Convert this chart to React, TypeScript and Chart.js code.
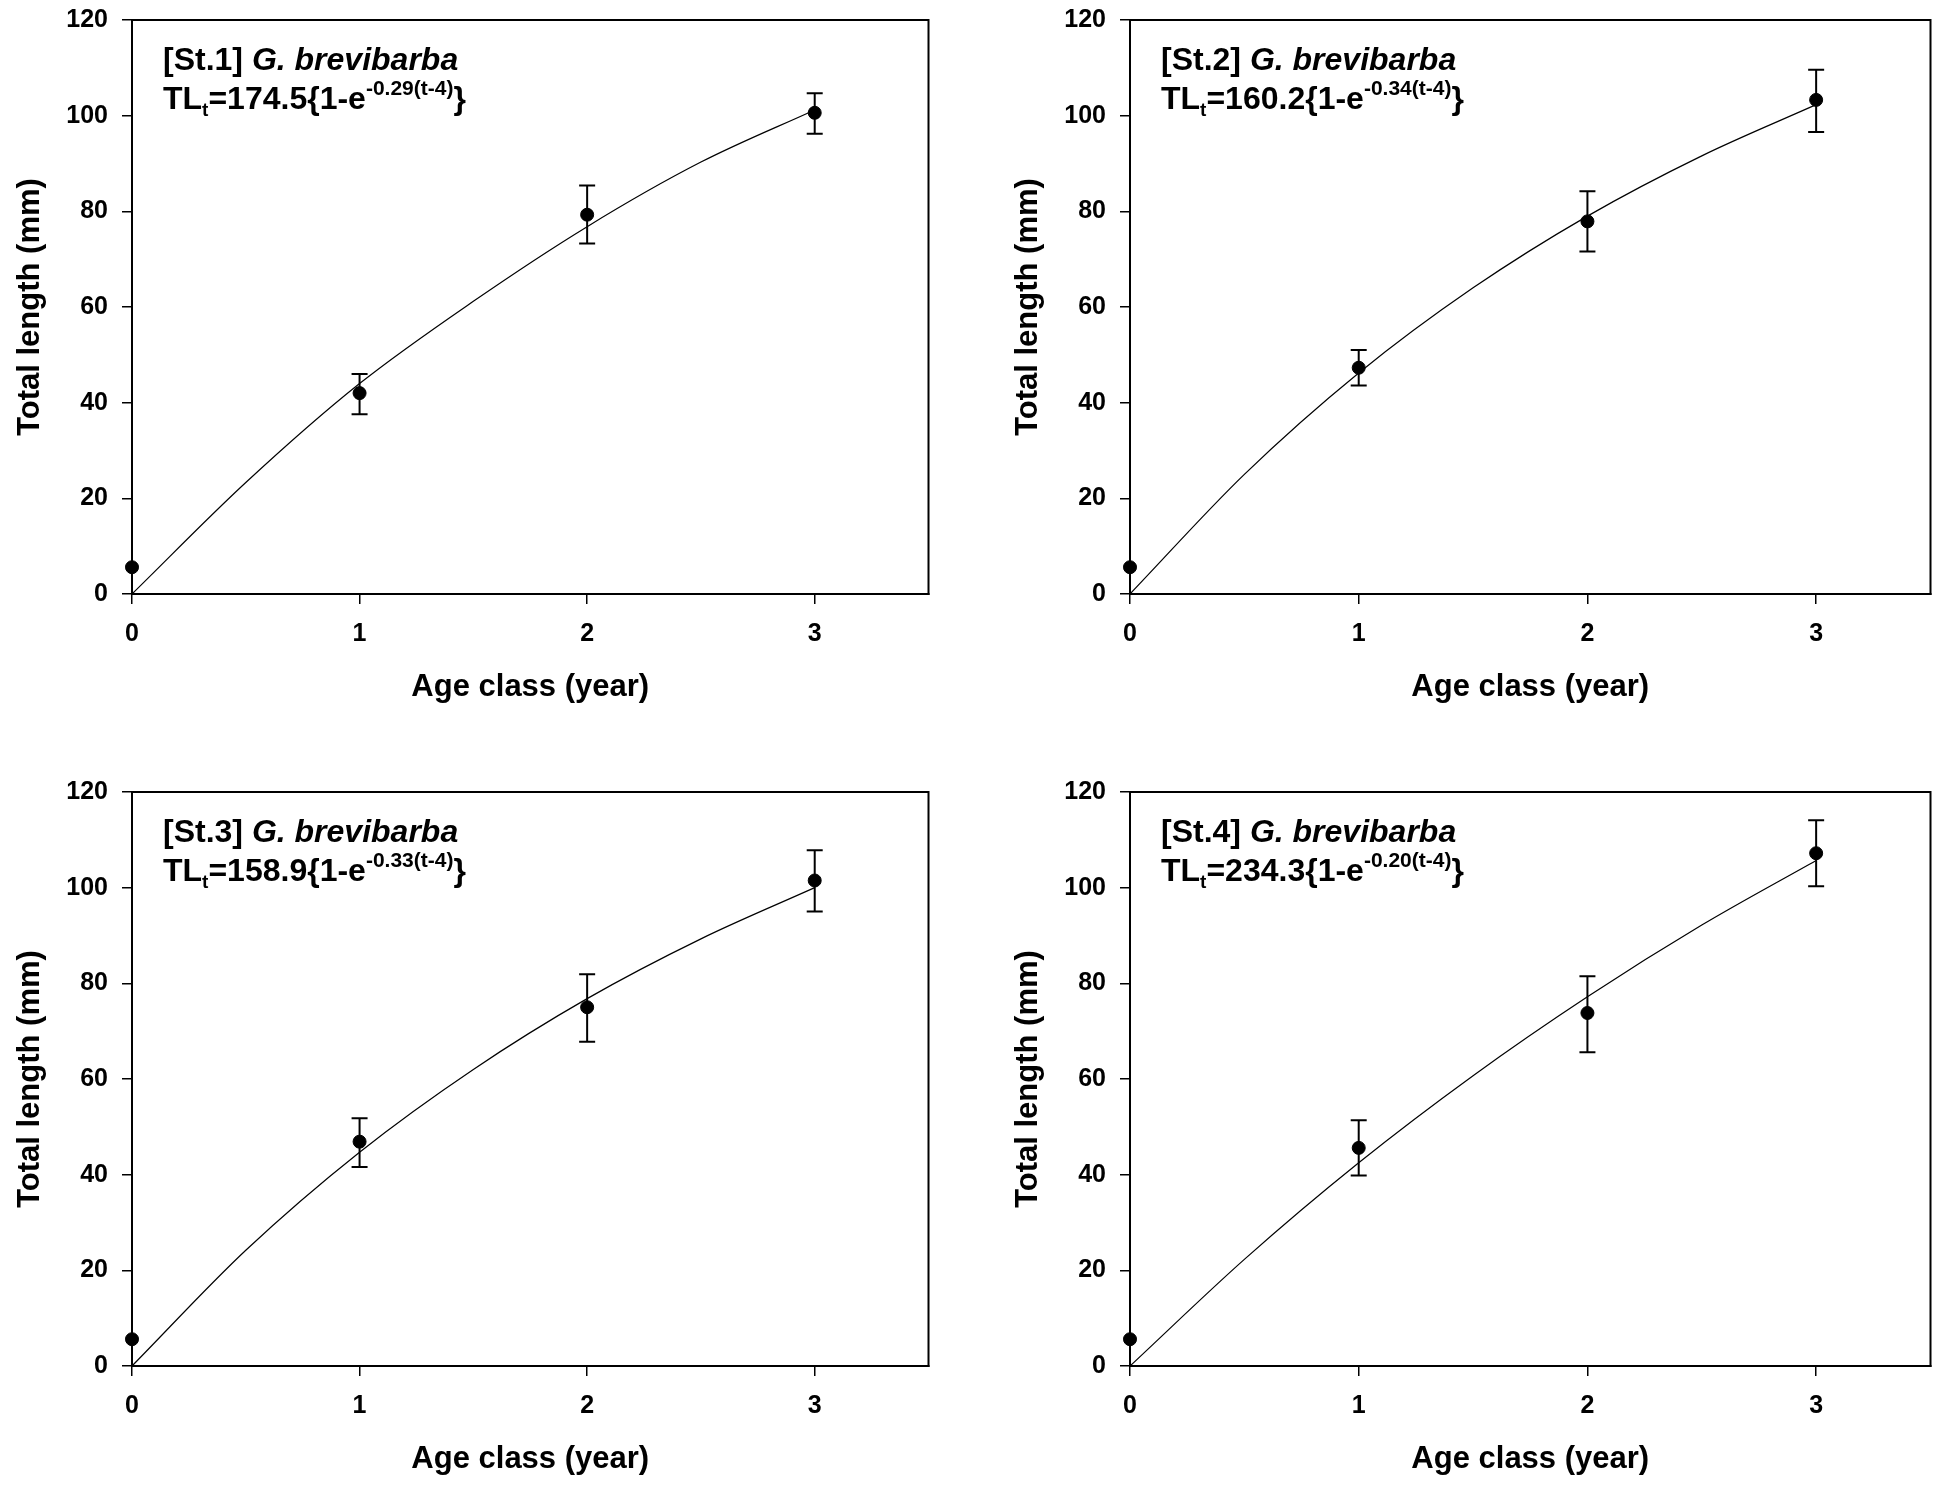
import React, { useEffect, useRef } from "react";
import { Chart, registerables } from "chart.js";

Chart.register(...registerables);

// ---------------- data ----------------
const ages = [0, 1, 2, 3];
const curveAges = [0, 0.5, 1, 1.5, 2, 2.5, 3];
const xTicks = [0, 1, 2, 3];

const st1Mean = [5.6, 42.0, 79.3, 100.6];
const st1Upper = [null, 46.0, 85.4, 104.7];
const st1Lower = [null, 37.6, 73.3, 96.2];
const st1Curve = [0, 23.3, 44.0, 61.2, 76.8, 90.3, 101.2];

const st2Mean = [5.6, 47.3, 77.9, 103.3];
const st2Upper = [null, 51.0, 84.2, 109.6];
const st2Lower = [null, 43.6, 71.6, 96.6];
const st2Curve = [0, 25.0, 46.2, 64.0, 79.0, 91.6, 102.3];

const st3Mean = [5.6, 46.9, 75.0, 101.5];
const st3Upper = [null, 51.8, 81.9, 107.8];
const st3Lower = [null, 41.6, 67.8, 95.0];
const st3Curve = [0, 24.2, 44.7, 62.0, 76.8, 89.3, 100.0];

const st4Mean = [5.6, 45.6, 73.8, 107.2];
const st4Upper = [null, 51.4, 81.5, 114.1];
const st4Lower = [null, 39.8, 65.6, 100.3];
const st4Curve = [0, 22.3, 42.5, 60.7, 77.2, 92.2, 105.7];

const stationNames = ["St.1", "St.2", "St.3", "St.4"];
const speciesName = "G. brevibarba";
const linfLabels = ["174.5", "160.2", "158.9", "234.3"];
const kLabels = ["-0.29(t-4)", "-0.34(t-4)", "-0.33(t-4)", "-0.20(t-4)"];

const xTitle = "Age class (year)";
const yTitle = "Total length (mm)";

// ---------------- styling / layout ----------------
const FONT = "'Liberation Sans', Arial, Helvetica, sans-serif";
const AREA_H = 574;
const Y_AXIS_W = 132;
const PAD_TOP = 30;
const X_AXIS_H = 114;
const PAD_RIGHT = 7;
const CANVAS_H = PAD_TOP + AREA_H + X_AXIS_H;

const panels = [
  { idx: 0, left: 0, top: 20 - PAD_TOP, areaW: 797, mean: st1Mean, upper: st1Upper, lower: st1Lower, curve: st1Curve },
  { idx: 1, left: 998, top: 20 - PAD_TOP, areaW: 801, mean: st2Mean, upper: st2Upper, lower: st2Lower, curve: st2Curve },
  { idx: 2, left: 0, top: 792 - PAD_TOP, areaW: 797, mean: st3Mean, upper: st3Upper, lower: st3Lower, curve: st3Curve },
  { idx: 3, left: 998, top: 792 - PAD_TOP, areaW: 801, mean: st4Mean, upper: st4Upper, lower: st4Lower, curve: st4Curve },
];

type Part = { text: string; size: number; italic?: boolean; dy?: number };

function drawRich(ctx: CanvasRenderingContext2D, x: number, y: number, parts: Part[]) {
  let cx = x;
  for (const p of parts) {
    ctx.font = `${p.italic ? "italic " : ""}bold ${p.size}px ${FONT}`;
    ctx.fillText(p.text, cx, y + (p.dy || 0));
    cx += ctx.measureText(p.text).width;
  }
}

function Panel({ cfg }: { cfg: any }) {
  const ref = useRef<HTMLCanvasElement | null>(null);
  const canvasW = Y_AXIS_W + cfg.areaW + PAD_RIGHT;

  useEffect(() => {
    if (!ref.current) return;
    const { idx, mean, upper, lower, curve } = cfg;

    const framePlugin = {
      id: "frameAndBars",
      beforeDatasetsDraw(chart: any) {
        const { ctx, chartArea, scales } = chart;
        ctx.save();
        ctx.strokeStyle = "#000";
        ctx.lineWidth = 2;
        ctx.strokeRect(chartArea.left, chartArea.top, chartArea.right - chartArea.left, chartArea.bottom - chartArea.top);
        // error bars
        ctx.lineWidth = 2;
        for (let i = 0; i < ages.length; i++) {
          if (upper[i] == null || lower[i] == null) continue;
          const px = scales.x.getPixelForValue(ages[i]);
          const pt = scales.y.getPixelForValue(upper[i]);
          const pb = scales.y.getPixelForValue(lower[i]);
          ctx.beginPath();
          ctx.moveTo(px, pt);
          ctx.lineTo(px, pb);
          ctx.moveTo(px - 8, pt);
          ctx.lineTo(px + 8, pt);
          ctx.moveTo(px - 8, pb);
          ctx.lineTo(px + 8, pb);
          ctx.stroke();
        }
        ctx.restore();
      },
      afterDraw(chart: any) {
        const { ctx, chartArea } = chart;
        ctx.save();
        ctx.fillStyle = "#000";
        ctx.textBaseline = "alphabetic";
        ctx.textAlign = "left";
        const x0 = chartArea.left + 31;
        drawRich(ctx, x0, chartArea.top + 50, [
          { text: `[${stationNames[idx]}] `, size: 32 },
          { text: speciesName, size: 32, italic: true },
        ]);
        drawRich(ctx, x0, chartArea.top + 89, [
          { text: "TL", size: 32 },
          { text: "t", size: 19, dy: 7 },
          { text: `=${linfLabels[idx]}{1-e`, size: 32 },
          { text: kLabels[idx], size: 21, dy: -14 },
          { text: "}", size: 32 },
        ]);
        ctx.restore();
      },
    };

    const chart = new Chart(ref.current, {
      type: "scatter",
      data: {
        datasets: [
          {
            type: "line",
            data: curveAges.map((t, i) => ({ x: t, y: curve[i] })),
            borderColor: "#000",
            borderWidth: 1.2,
            pointRadius: 0,
            fill: false,
            cubicInterpolationMode: "monotone",
            clip: false,
          } as any,
          {
            type: "scatter",
            data: ages.map((t, i) => ({ x: t, y: mean[i] })),
            backgroundColor: "#000",
            borderColor: "#000",
            pointRadius: 6.5,
            pointHoverRadius: 6.5,
            clip: false,
          } as any,
        ],
      },
      options: {
        responsive: false,
        animation: false,
        devicePixelRatio: 1,
        events: [],
        layout: { padding: { left: 0, top: PAD_TOP, right: PAD_RIGHT, bottom: 0 } },
        plugins: { legend: { display: false }, tooltip: { enabled: false } },
        scales: {
          x: {
            type: "linear",
            min: 0,
            max: 3.5,
            afterBuildTicks: (s: any) => {
              s.ticks = xTicks.map((v) => ({ value: v }));
            },
            afterFit: (s: any) => {
              s.height = X_AXIS_H;
            },
            grid: { drawOnChartArea: false, drawTicks: true, tickLength: 10, color: "#000", lineWidth: 1.5 },
            border: { display: true, color: "#000", width: 2 },
            ticks: {
              color: "#000",
              padding: 15,
              maxRotation: 0,
              font: { family: FONT, size: 25, weight: "bold" },
              callback: (v: any) => String(v),
            },
            title: {
              display: true,
              text: xTitle,
              color: "#000",
              font: { family: FONT, size: 31, weight: "bold" },
              padding: { top: 0, bottom: 1.5 },
            },
          },
          y: {
            type: "linear",
            min: 0,
            max: 120,
            afterFit: (s: any) => {
              s.width = Y_AXIS_W;
            },
            grid: { drawOnChartArea: false, drawTicks: true, tickLength: 10, color: "#000", lineWidth: 1.5 },
            border: { display: true, color: "#000", width: 2 },
            ticks: {
              stepSize: 20,
              color: "#000",
              padding: 14,
              font: { family: FONT, size: 25, weight: "bold" },
            },
            title: {
              display: true,
              text: yTitle,
              color: "#000",
              font: { family: FONT, size: 31, weight: "bold" },
              padding: { top: 11.5, bottom: 0 },
            },
          },
        },
      } as any,
      plugins: [framePlugin],
    });
    return () => chart.destroy();
  }, [cfg]);

  return (
    <canvas
      ref={ref}
      width={canvasW}
      height={CANVAS_H}
      style={{ position: "absolute", left: cfg.left, top: cfg.top, width: canvasW, height: CANVAS_H }}
    />
  );
}

export default function App() {
  return (
    <div
      style={{
        position: "absolute",
        left: 0,
        top: 0,
        width: 1938,
        height: 1493,
        overflow: "hidden",
        background: "#fff",
      }}
    >
      {panels.map((p) => (
        <Panel key={p.idx} cfg={p} />
      ))}
    </div>
  );
}
